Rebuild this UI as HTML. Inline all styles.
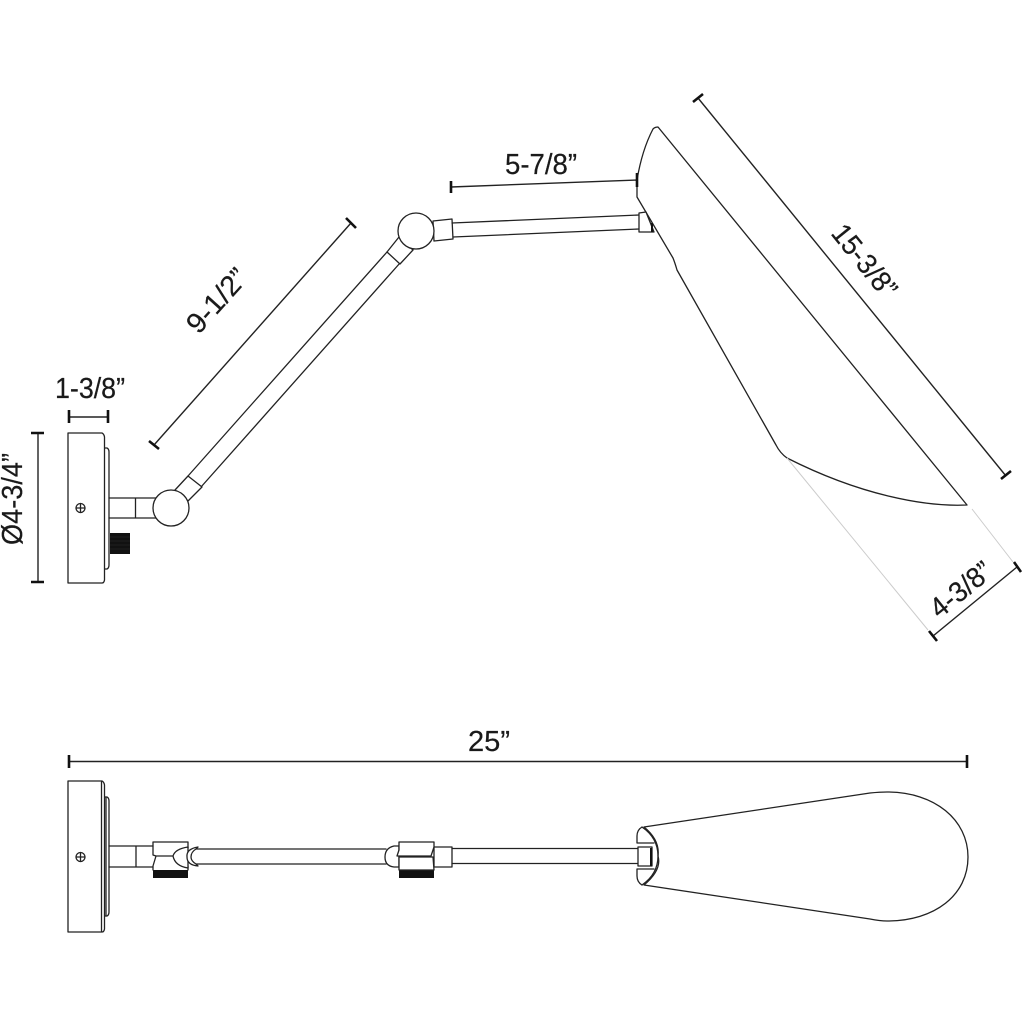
<!DOCTYPE html>
<html>
<head>
<meta charset="utf-8">
<style>
html,body{margin:0;padding:0;background:#fff;width:1024px;height:1024px;overflow:hidden}
svg{display:block}
text{font-family:"Liberation Sans",sans-serif;font-size:28.5px;fill:#1a1a1a;stroke:#1a1a1a;stroke-width:.2;text-anchor:middle}
.l{fill:#fff;stroke:#222;stroke-width:1.3;stroke-linejoin:round;stroke-linecap:round}
.n{fill:none;stroke:#222;stroke-width:1.3;stroke-linejoin:round;stroke-linecap:round}
.d{fill:none;stroke:#222;stroke-width:1.4}
.t{fill:none;stroke:#111;stroke-width:2.6}
.g{fill:none;stroke:#ccc;stroke-width:1}
</style>
</head>
<body>
<svg width="1024" height="1024" viewBox="0 0 1024 1024" xmlns="http://www.w3.org/2000/svg">
<rect width="1024" height="1024" fill="#fff"/>

<!-- Side view: wall plate -->
<path class="l" d="M104 448 H107 Q109 449 109 452 V565 Q109 568 107 569 H104 Z"/>
<path class="l" d="M68 433 H102 Q104 434 104.500 437 V580 Q104 583 102 583 H68 Z"/>
<circle class="n" cx="80.500" cy="508" r="4.500"/>
<path class="n" d="M76 508 H85 M80.500 503.500 V512.500" stroke-width="1.600"/>
<path class="n" d="M109 498 H160 M109 518 H160 M135.500 498 V518"/>
<rect x="110" y="533" width="20" height="21" fill="#111"/>
<path d="M110 537 H130 M110 541 H130 M110 545 H130 M110 549 H130" stroke="#333" stroke-width=".4" fill="none"/>

<!-- Side view: arm -->
<path class="n" d="M188 476 L387 252 M201 487 L400 263"/>
<path class="l" d="M188 476 L202 487 L188 501 L175 490 Z"/>
<circle class="l" cx="171" cy="508" r="18"/>
<path class="l" d="M387 252 L399 237 L413 250 L400 264 Z"/>
<path class="l" d="M433 221 L452 219 L453 239 L434 241 Z"/>
<circle class="l" cx="416" cy="231" r="18"/>
<path class="n" d="M452 223 L639 215 M453 237 L639 229"/>

<!-- Side view: shade -->
<path class="l" d="M658 127 L967 505 C925 507 860 495 787 458 Q780 453 776 445 L677 270 Q675 263 673 258 L637 197 V180 Q642 150 653 129 Q655 127 658 127 Z"/>
<path class="l" d="M639 213 L646 212 L654 232 L639 232 Z"/>
<path d="M652 223 V232" stroke="#111" stroke-width="2" fill="none"/>

<!-- Side view: dimension lines -->
<path class="d" d="M69 417 H108"/>
<path class="t" d="M69 410 V423 M108 410 V423"/>
<path class="d" d="M38 433 V582"/>
<path class="t" d="M31 433 H44 M31 582 H44"/>
<path class="d" d="M154 445 L351 223"/>
<path class="t" d="M149 441 L159 449 M346 218 L356 228"/>
<path class="d" d="M451 187 L637 180"/>
<path class="t" d="M451 181 V193 M637 173 V187"/>
<path class="d" d="M698 98 L1006 476"/>
<path class="t" d="M693 102 L703 94 M1001 479 L1011 471"/>
<path class="g" d="M787 458 L928 630 M972 509 L1013 562"/>
<path class="d" d="M933 636 L1017 567"/>
<path class="t" d="M929 631 L937 641 M1014 562 L1021 572"/>

<!-- Labels -->
<text x="90" y="398" textLength="70" lengthAdjust="spacingAndGlyphs">1-3/8”</text>
<text transform="translate(22 499) rotate(-90)" textLength="92" lengthAdjust="spacingAndGlyphs">Ø4-3/4”</text>
<text transform="translate(224 307) rotate(-48)" textLength="76" lengthAdjust="spacingAndGlyphs">9-1/2”</text>
<text x="541" y="174" textLength="72" lengthAdjust="spacingAndGlyphs">5-7/8”</text>
<text transform="translate(857 267) rotate(51)" textLength="86" lengthAdjust="spacingAndGlyphs">15-3/8”</text>
<text transform="translate(967 597) rotate(-39)" textLength="71" lengthAdjust="spacingAndGlyphs">4-3/8”</text>
<text x="489" y="751" textLength="42" lengthAdjust="spacingAndGlyphs">25”</text>

<!-- Bottom view: dimension -->
<path class="d" d="M69 761.500 H967"/>
<path class="t" d="M69 755 V768 M967 755 V768"/>

<!-- Bottom view: plate -->
<path class="l" d="M104 797 H107 Q109 798 109 801 V912 Q109 915 107 916 H104 Z"/>
<path class="n" d="M106 797 V916"/>
<path class="l" d="M68 781 H102 Q104 782 104.500 785 V929 Q104 932 102 932 H68 Z"/>
<path class="n" d="M101.500 782 V931"/>
<circle class="n" cx="80.500" cy="857" r="4.500"/>
<path class="n" d="M76 857 H85 M80.500 852.500 V861.500" stroke-width="1.600"/>

<!-- Bottom view: stem and joints -->
<path class="n" d="M109 846 H153 M109 867 H153 M136 846 V867"/>
<rect x="153" y="870" width="35" height="8" fill="#111"/>
<path class="n" d="M153 842 H188 V848 M153 842 V855 L156 856 H173 M156 856 L153 866 V870 M188 866 V870"/>
<path class="l" d="M188 847 Q175 849 173 856 Q175 866 188 868 Z"/>
<path class="n" d="M196 849 H386 M196 864 H386"/>
<path class="l" d="M198 847 Q186 849 187 857 Q187 865 198 866 L196 864 Q191 861 191 857 Q191 852 196 849 Z"/>
<path class="l" d="M399 846 H394 Q385 848 385 857 Q385 866 394 867 H399 Z"/>
<rect x="399" y="870" width="35" height="8" fill="#111"/>
<path class="l" d="M434 847 H452 V867 H434 Z"/>
<path class="l" d="M399 842 H434 V847 L431 856 H397 L399 850 Z"/>
<path class="l" d="M399 857 H433 L434 870 H399 Z"/>
<path class="n" d="M452 848.500 L638 848.500 M452 863.500 L638 863.500"/>

<!-- Bottom view: shade -->
<path class="l" d="M644 827 L870 793 Q880 792 887 792 C935 792 968 820 968 857 C968 895 935 921 887 921 Q880 921 870 919 L644 885 Q662 870 658 856 Q660 840 644 827 Z"/>
<path class="n" d="M642 827 Q637 830 637 836 V843 H654 M642 885 Q637 882 637 876 V869 H654" stroke-width="1.500"/>
<path class="n" d="M642 827 Q658 838 658 856 Q658 874 642 885" stroke-width="1.600"/>
<rect class="l" x="638" y="847" width="14" height="19"/>
<path d="M651 848 V866" stroke="#111" stroke-width="2" fill="none"/>
</svg>
</body>
</html>
